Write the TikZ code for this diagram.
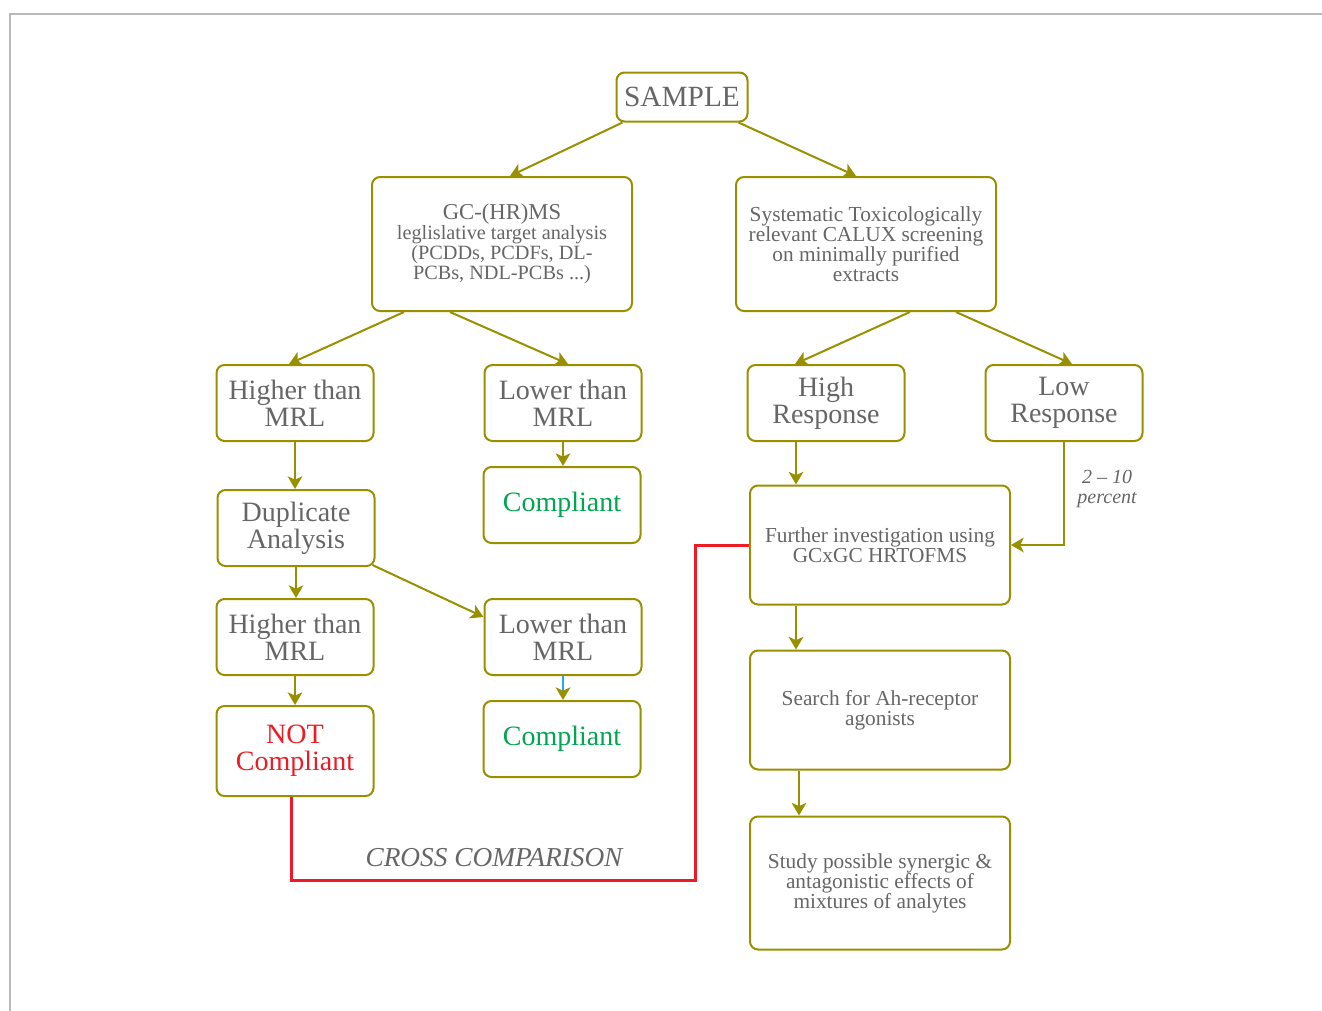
\documentclass[tikz,border=0pt]{standalone}
\usepackage{fontspec}
\setmainfont{Liberation Serif}
\usetikzlibrary{arrows.meta}
\usetikzlibrary{positioning}
\usetikzlibrary{calc}

\definecolor{boxolive}{RGB}{153,144,0}
\definecolor{txtgray}{RGB}{102,102,102}
\definecolor{okgreen}{RGB}{0,166,81}
\definecolor{notred}{RGB}{237,28,36}
\definecolor{linkcyan}{RGB}{41,171,226}

\tikzset{
  box/.style={draw=boxolive, line width=1.5pt, rounded corners=6pt, fill=white,
    align=center, text=txtgray, inner sep=0pt},
  small/.style={box, minimum width=117.75pt, minimum height=57pt,
    font=\fontsize{21}{20}\selectfont},
  wide/.style={box, minimum width=195pt, font=\fontsize{16}{15}\selectfont},
  flow/.style={draw=boxolive, line width=1.5pt,
    -{Stealth[length=9.5pt,width=11pt,inset=2.5pt,color=boxolive]}},
  note/.style={text=txtgray, font=\itshape\fontsize{15}{15}\selectfont, align=center},
}

\begin{document}
\begin{tikzpicture}[x=0.75pt, y=-0.75pt]
            \useasboundingbox (0,0) rectangle (1322,1011);
            \draw[gray!55, line width=1.5pt] (10,1011) -- (10,14) -- (1322,14); % frame

            \node[box, minimum width=98.25pt, minimum height=36.75pt,
              font=\fontsize{22}{22}\selectfont]            (sample)  at (682,97)  {SAMPLE};
            \node[wide, minimum height=100.5pt,
              font=\fontsize{15.2}{15}\selectfont]           (gc)      at (502,244) {{\fontsize{17}{15}\selectfont GC-(HR)MS}\\leglislative target analysis\\(PCDDs, PCDFs, DL-\\PCBs, NDL-PCBs ...)};
            \node[wide, minimum height=100.5pt]              (calux)   at (866,244) {Systematic Toxicologically\\relevant CALUX screening\\on minimally purified\\extracts};
            \node[small]                                     (hi_1)    at (295,403) {Higher than\\MRL};
            \node[small]                                     (lo_1)    at (563,403) {Lower than\\MRL};
            \node[small]                                     (high)    at (826,403) {High\\Response};
            \node[small]                                     (low)     at (1064,403) {Low\\Response};
            \node[small, text=okgreen]                       (comp_1)  at (562,505) {Compliant};
            \node[small]                                     (dup)     at (296,528) {Duplicate\\Analysis};
            \node[small]                                     (hi_2)    at (295,637) {Higher than\\MRL};
            \node[small]                                     (lo_2)    at (563,637) {Lower than\\MRL};
            \node[small, minimum height=67.5pt, text=notred] (notc)    at (295,751) {NOT\\Compliant};
            \node[small, text=okgreen]                       (comp_2)  at (562,739) {Compliant};
            \node[wide, minimum height=89.25pt]              (further) at (880,545) {Further investigation using\\GCxGC HRTOFMS};
            \node[wide, minimum height=89.25pt]              (search)  at (880,710) {Search for Ah-receptor\\agonists};
            \node[wide, minimum height=99.75pt]              (study)   at (880,883) {Study possible synergic \&\\antagonistic effects of\\mixtures of analytes};

            % left branch
            \draw[flow] ($(sample.south west)+(7,0)$) -- ($(gc.north)+(8,0)$);
            \draw[flow] ($(gc.south)+(-98,0)$) -- ($(hi_1.north)+(-6,0)$);
            \draw[flow] ($(gc.south)+(-52,0)$) -- ($(lo_1.north)+(5,0)$);
            \draw[flow] (hi_1.south) -- (hi_1.south |- dup.north);
            \draw[flow] (lo_1.south) -- (lo_1.south |- comp_1.north);
            \draw[flow] (dup.south) -- (dup.south |- hi_2.north);
            \draw[flow] ($(dup.south east)+(-3,-2)$) -- ($(lo_2.west)+(0,-20)$);
            \draw[flow] (hi_2.south) -- (hi_2.south |- notc.north);
            \draw[flow, draw=linkcyan] (lo_2.south) -- (lo_2.south |- comp_2.north);

            % right branch
            \draw[flow] ($(sample.south east)+(-10,0)$) -- ($(calux.north)+(-10,0)$);
            \draw[flow] ($(calux.south)+(44,0)$) -- ($(high.north)+(-31,0)$);
            \draw[flow] ($(calux.south)+(90,0)$) -- ($(low.north)+(8,0)$);
            \draw[flow] ($(high.south)+(-30,0)$) coordinate (h_1) -- (h_1 |- further.north);
            \draw[flow] (low.south) |- node[note, pos=0.23, right=6pt] {2 -- 10\\percent} (further.east);
            \draw[flow] ($(further.south)+(-84,0)$) coordinate (f_1) -- (f_1 |- search.north);
            \draw[flow] ($(search.south)+(-81,0)$) coordinate (s_1) -- (s_1 |- study.north);

            % cross comparison
            \coordinate (xc) at (695,880);
            \draw[notred, line width=2.25pt] ($(notc.south)+(-4,0)$) |- (xc) |- (further.west);
            \node[note, font=\itshape\fontsize{20.5}{20}\selectfont] (cross) at (494,858) {CROSS COMPARISON};
        \end{tikzpicture}
\end{document}
